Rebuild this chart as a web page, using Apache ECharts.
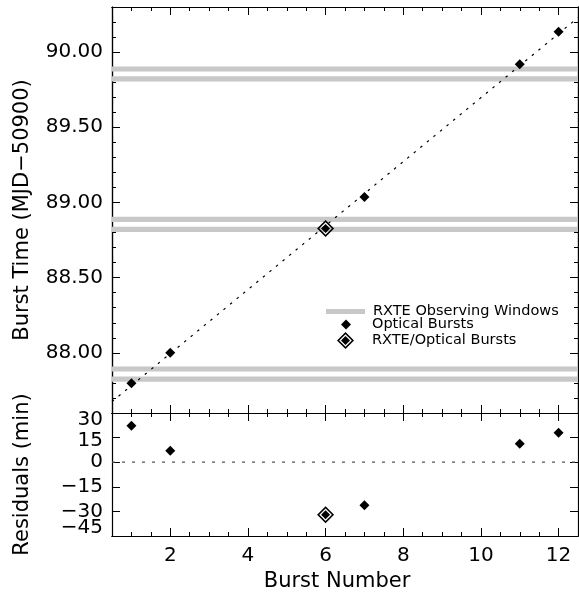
<!DOCTYPE html>
<html>
<head>
<meta charset="utf-8">
<script src="https://cdn.jsdelivr.net/npm/echarts@6/dist/echarts.min.js"></script>
<style>html,body{margin:0;padding:0;background:#fff}#c{width:579px;height:594px}</style>
</head>
<body>
<div id="c"></div>
<script>
// ---- data ----
const burstNumbers = [1, 2, 6, 7, 11, 12];
const burstTimes = [87.798, 88.000, 88.827, 89.037, 89.920, 90.135];
const residuals = [22.3, 7.0, -32.0, -26.3, 11.3, 18.0];
const rxteBurstNumbers = [6];
const rxteBurstTimes = [88.827];
const rxteResiduals = [-32.0];
const fitX = [0.5, 12.5];
const fitY = [87.676, 90.229];
const bandLow = [87.876, 87.807, 88.871, 88.804, 89.871, 89.804];
const bandHigh = [87.910, 87.843, 88.905, 88.839, 89.905, 89.839];
const xTicks = [2, 4, 6, 8, 10, 12];
const topYTicks = [88.0, 88.5, 89.0, 89.5, 90.0];
const resYTicks = [-45, -30, -15, 0, 15, 30];

const FONT = 'DejaVu Sans';
const xMin = 0.5, xMax = 12.5;
const topMin = 87.6, topMax = 90.3;
const resMin = -45, resMax = 30;

const xMinor = [];
for (let i = 2; i <= 25; i++) { const v = i / 2; if (v % 2 !== 0) xMinor.push(v); }
const topMinor = [];
for (let i = 877; i <= 902; i++) { if (i % 5 !== 0) topMinor.push(i / 10); }

const minus = s => String(s).replace('-', '\u2212');
const openDiamond = 'path://M0,-85 L85,0 L0,85 L-85,0 Z M0,-63 L-63,0 L0,63 L63,0 Z M0,-45 L45,0 L0,45 L-45,0 Z';

const xAxes = [], yAxes = [];
function addX(grid, pos, vals, len, labels) {
  xAxes.push({
    type: 'value', gridIndex: grid, position: pos, min: xMin, max: xMax,
    axisLine: { show: true, onZero: false, lineStyle: { color: '#000', width: 1.2 } },
    axisTick: { show: true, inside: true, length: len, customValues: vals, lineStyle: { color: '#000', width: 1 } },
    axisLabel: labels ? { show: true, customValues: vals, margin: 10, color: '#000', fontFamily: FONT, fontSize: 20 } : { show: false },
    splitLine: { show: false },
    name: labels ? 'Burst Number' : '', nameLocation: 'middle', nameGap: 35,
    nameTextStyle: { color: '#000', fontFamily: FONT, fontSize: 21, padding: [0, 16, 0, 0] }
  });
}
function addY(grid, pos, min, max, vals, len, labels, fmt, name, shift) {
  const p = shift ? (shift > 0 ? [2 * shift, 0, 0, 0] : [0, 0, -2 * shift, 0]) : [0, 0, 0, 0];
  yAxes.push({
    type: 'value', gridIndex: grid, position: pos, min: min, max: max,
    axisLine: { show: len > 0, onZero: false, lineStyle: { color: '#000', width: 1.2 } },
    axisTick: { show: len > 0, inside: true, length: len, customValues: vals, lineStyle: { color: '#000', width: 1 } },
    axisLabel: labels ? { show: true, customValues: vals, margin: 9, color: '#000', fontFamily: FONT, fontSize: 20,
      formatter: v => '{t|' + fmt(v) + '}', showMinLabel: true, showMaxLabel: true,
      rich: { t: { fontFamily: FONT, fontSize: 20, color: '#000', padding: p } } } : { show: false },
    splitLine: { show: false },
    name: name || '', nameLocation: 'middle', nameGap: 79,
    nameTextStyle: { color: '#000', fontFamily: FONT, fontSize: 21 }
  });
}
// grid 0 (top) x axes: 0 bottom major, 1 bottom minor, 2 top major, 3 top minor
addX(0, 'bottom', xTicks, 8, false);
addX(0, 'bottom', xMinor, 4, false);
addX(0, 'top', xTicks, 8, false);
addX(0, 'top', xMinor, 4, false);
// grid 1 x axes: 4 bottom major (labels), 5 bottom minor, 6 top major, 7 top minor
addX(1, 'bottom', xTicks, 8, true);
addX(1, 'bottom', xMinor, 4, false);
addX(1, 'top', xTicks, 8, false);
addX(1, 'top', xMinor, 4, false);
// y axes grid 0: 0 left major, 1 left minor, 2 right major, 3 right minor
addY(0, 'left', topMin, topMax, topYTicks, 8, true, v => v.toFixed(2), 'Burst Time (MJD\u221250900)');
addY(0, 'left', topMin, topMax, topMinor, 4, false);
addY(0, 'right', topMin, topMax, topYTicks, 8, false);
addY(0, 'right', topMin, topMax, topMinor, 4, false);
// y axes grid 1: 4 left (ticks + title), 5 right, then one label axis per residual tick
addY(1, 'left', resMin, resMax, resYTicks, 8, false, null, 'Residuals (min)');
addY(1, 'right', resMin, resMax, resYTicks, 8, false);
const resShift = { '30': 7, '15': 3, '-45': -8 };
resYTicks.forEach(t => {
  addY(1, 'left', resMin, resMax, [t], 0, true, v => minus(v), '', resShift[String(t)] || 0);
});

const bands = bandLow.map((lo, i) => [{ yAxis: lo }, { yAxis: bandHigh[i] }]);
const topPts = burstNumbers.map((b, i) => [b, burstTimes[i]]);
const resPts = burstNumbers.map((b, i) => [b, residuals[i]]);
const rxteTop = rxteBurstNumbers.map((b, i) => [b, rxteBurstTimes[i]]);
const rxteRes = rxteBurstNumbers.map((b, i) => [b, rxteResiduals[i]]);

const legendText = pad => ({ color: '#000', fontFamily: FONT, fontSize: 14.5, padding: [0, 0, 0, pad] });
const legendBase = { orient: 'vertical', selectedMode: false, itemGap: 0, padding: 0 };

const option = {
  animation: false,
  backgroundColor: '#fff',
  grid: [
    { left: 112, top: 7, width: 466, height: 406 },
    { left: 112, top: 413, width: 466, height: 123 }
  ],
  xAxis: xAxes,
  yAxis: yAxes,
  legend: [
    Object.assign({}, legendBase, { left: 326, top: 304, itemWidth: 39, itemHeight: 5, textStyle: legendText(3),
      data: [{ name: 'RXTE Observing Windows', icon: 'rect', itemStyle: { color: '#c8c8c8' } }] }),
    Object.assign({}, legendBase, { left: 341, top: 317, itemWidth: 10, itemHeight: 10, textStyle: legendText(16),
      data: [{ name: 'Optical Bursts', icon: 'diamond', itemStyle: { color: '#000', opacity: 1 } }] }),
    Object.assign({}, legendBase, { left: 337, top: 332, itemWidth: 17, itemHeight: 17, textStyle: legendText(13),
      data: [{ name: 'RXTE/Optical Bursts', icon: openDiamond, itemStyle: { color: '#000', opacity: 1 } }] })
  ],
  series: [
    { name: 'RXTE Observing Windows', type: 'line', xAxisIndex: 0, yAxisIndex: 0, data: [],
      itemStyle: { color: '#c8c8c8' },
      markArea: { silent: true, itemStyle: { color: '#c8c8c8', opacity: 1 }, data: bands } },
    { name: 'fit', type: 'line', xAxisIndex: 0, yAxisIndex: 0, symbol: 'none', z: 3,
      data: fitX.map((x, i) => [x, fitY[i]]),
      lineStyle: { color: '#000', width: 1.2, type: [2.5, 6] } },
    { name: 'zero', type: 'line', xAxisIndex: 4, yAxisIndex: 4, symbol: 'none',
      data: fitX.map(x => [x, 0]),
      lineStyle: { color: '#555', width: 1.2, type: [3, 7] } },
    { name: 'RXTE/Optical Bursts', type: 'scatter', xAxisIndex: 0, yAxisIndex: 0, z: 4,
      symbol: openDiamond, symbolSize: 17, data: rxteTop, itemStyle: { color: '#000', opacity: 1 } },
    { name: 'RXTE/Optical Bursts', type: 'scatter', xAxisIndex: 4, yAxisIndex: 4, z: 4,
      symbol: openDiamond, symbolSize: 17, data: rxteRes, itemStyle: { color: '#000', opacity: 1 } },
    { name: 'Optical Bursts', type: 'scatter', xAxisIndex: 0, yAxisIndex: 0, z: 5,
      symbol: 'diamond', symbolSize: 10, data: topPts.filter(p => !rxteBurstNumbers.includes(p[0])), itemStyle: { color: '#000', opacity: 1 } },
    { name: 'Optical Bursts', type: 'scatter', xAxisIndex: 4, yAxisIndex: 4, z: 5,
      symbol: 'diamond', symbolSize: 10, data: resPts.filter(p => !rxteBurstNumbers.includes(p[0])), itemStyle: { color: '#000', opacity: 1 } }
  ]
};
echarts.init(document.getElementById('c'), null, { renderer: 'canvas' }).setOption(option);
</script>
</body>
</html>
